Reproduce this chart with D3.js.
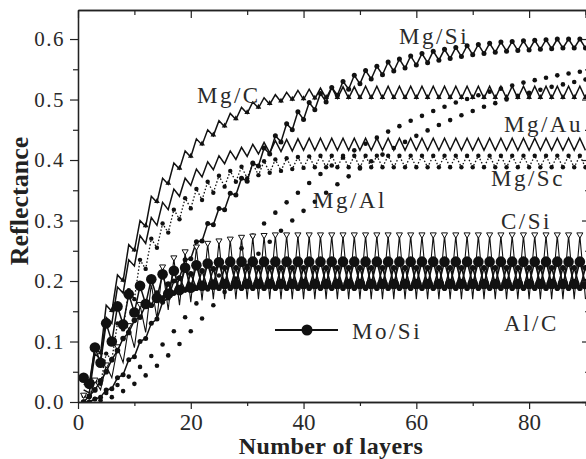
<!DOCTYPE html>
<html>
<head>
<meta charset="utf-8">
<script src="https://cdn.jsdelivr.net/npm/d3@7/dist/d3.min.js"></script>
<style>
  body { margin: 0; background: #fff; }
  text { font-family: "Liberation Serif", "Times New Roman", serif; fill: #2a2a2a; }
</style>
</head>
<body>
<div id="chart"></div>
<script>
// tick values
const xMajor = [0, 20, 40, 60, 80];
const xMinor = [10, 30, 50, 70, 90];
const yMajor = [0, 0.1, 0.2, 0.3, 0.4, 0.5, 0.6];
const yMinor = [0.05, 0.15, 0.25, 0.35, 0.45, 0.55];

// reflectance, odd layers (1,3,..,89) and even layers (2,4,..,90)
const mgcOdd = [0.03,0.09,0.16,0.21,0.26,0.30,0.34,0.37,0.395,0.415,0.435,0.45,0.465,0.477,0.487,0.496,0.503,0.508,0.512,0.515,0.517,0.519,0.52,
  0.521,0.521,0.522,0.522,0.522,0.522,0.522,0.522,0.522,0.522,0.522,0.522,0.522,0.522,0.522,0.522,0.522,0.522,0.522,0.522,0.522,0.522];
const mgcEven = [0.025,0.08,0.15,0.2,0.25,0.29,0.33,0.36,0.385,0.405,0.425,0.44,0.455,0.467,0.477,0.486,0.492,0.496,0.499,0.5,0.501,0.502,0.502,
  0.502,0.502,0.502,0.502,0.502,0.502,0.502,0.502,0.502,0.502,0.502,0.502,0.502,0.502,0.502,0.502,0.502,0.502,0.502,0.502,0.502,0.502];

const mgauOdd = [0.02,0.08,0.14,0.19,0.235,0.275,0.305,0.33,0.352,0.37,0.385,0.397,0.407,0.415,0.421,0.426,0.429,0.432,0.434,0.435,0.436,
  0.436,0.436,0.436,0.436,0.436,0.436,0.436,0.436,0.436,0.436,0.436,0.436,0.436,0.436,0.436,0.436,0.436,0.436,0.436,0.436,0.436,0.436,0.436,0.436];
const mgauEven = [0.015,0.07,0.13,0.18,0.225,0.262,0.292,0.318,0.34,0.358,0.372,0.384,0.394,0.401,0.406,0.41,0.412,0.414,0.415,0.416,
  0.416,0.416,0.416,0.416,0.416,0.416,0.416,0.416,0.416,0.416,0.416,0.416,0.416,0.416,0.416,0.416,0.416,0.416,0.416,0.416,0.416,0.416,0.416,0.416,0.416];

const mgscOdd = [0.01,0.035,0.08,0.13,0.185,0.235,0.27,0.295,0.318,0.337,0.352,0.364,0.374,0.382,0.389,0.394,0.398,0.401,0.403,0.405,0.406,
  0.407,0.407,0.407,0.407,0.407,0.407,0.407,0.407,0.407,0.407,0.407,0.407,0.407,0.407,0.407,0.407,0.407,0.407,0.407,0.407,0.407,0.407,0.407,0.407];
const mgscEven = [0.008,0.03,0.07,0.12,0.17,0.22,0.255,0.28,0.302,0.32,0.334,0.346,0.356,0.364,0.37,0.375,0.379,0.382,0.385,0.387,
  0.388,0.388,0.388,0.388,0.388,0.388,0.388,0.388,0.388,0.388,0.388,0.388,0.388,0.388,0.388,0.388,0.388,0.388,0.388,0.388,0.388,0.388,0.388,0.388,0.388];

const mgsiOdd = [0,0.005,0.02,0.04,0.07,0.10,0.13,0.165,0.20,0.235,0.265,0.295,0.32,0.345,0.37,0.395,0.42,0.44,0.46,0.48,0.495,0.51,0.52,0.53,0.54,
  0.548,0.555,0.562,0.567,0.572,0.576,0.58,0.583,0.586,0.589,0.591,0.593,0.595,0.596,0.597,0.598,0.599,0.6,0.6,0.6];
const mgsiEven = [0,0.008,0.022,0.045,0.075,0.105,0.137,0.172,0.205,0.237,0.266,0.293,0.318,0.342,0.365,0.39,0.41,0.43,0.45,0.467,0.483,0.496,0.507,0.517,0.526,
  0.534,0.541,0.547,0.552,0.557,0.561,0.565,0.568,0.571,0.574,0.576,0.578,0.58,0.581,0.582,0.583,0.584,0.585,0.585,0.585];

const mgalOdd = [0,0.005,0.015,0.028,0.042,0.058,0.076,0.095,0.117,0.14,0.163,0.186,0.209,0.232,0.254,0.275,0.295,0.313,0.33,0.346,
  0.362,0.377,0.391,0.404,0.416,0.427,0.437,0.447,0.456,0.465,0.473,0.481,0.488,0.495,0.501,0.507,0.513,0.518,0.523,0.528,0.532,0.536,0.54,0.543,0.546];
const mgalEven = [0,0.003,0.008,0.018,0.03,0.044,0.06,0.077,0.096,0.117,0.138,0.16,0.182,0.204,0.225,0.245,0.265,0.283,0.3,0.316,
  0.331,0.346,0.36,0.373,0.386,0.398,0.409,0.42,0.43,0.44,0.449,0.458,0.466,0.474,0.481,0.488,0.494,0.5,0.506,0.511,0.516,0.521,0.525,0.529,0.533];

const csiOdd = [0.01,0.035,0.06,0.09,0.125,0.16,0.195,0.222,0.237,0.247,0.255,0.261,0.265,0.268,0.271,0.273,0.274,
  0.275,0.275,0.275,0.275,0.275,0.275,0.275,0.275,0.275,0.275,0.275,0.275,0.275,0.275,0.275,0.275,0.275,0.275,0.275,0.275,0.275,0.275,0.275,0.275,0.275,0.275,0.275,0.275];
const csiEven = [0.005,0.02,0.04,0.065,0.09,0.115,0.138,0.152,0.16,0.165,0.168,
  0.17,0.17,0.17,0.17,0.17,0.17,0.17,0.17,0.17,0.17,0.17,0.17,0.17,0.17,0.17,0.17,0.17,0.17,0.17,0.17,0.17,0.17,0.17,0.17,0.17,0.17,0.17,0.17,0.17,0.17,0.17,0.17,0.17,0.17];

const mosiOdd = [0.04,0.09,0.13,0.158,0.178,0.192,0.203,0.211,0.217,0.222,0.226,0.229,0.231,
  0.232,0.232,0.232,0.232,0.232,0.232,0.232,0.232,0.232,0.232,0.232,0.232,0.232,0.232,0.232,0.232,0.232,0.232,0.232,0.232,0.232,0.232,0.232,0.232,0.232,0.232,0.232,0.232,0.232,0.232,0.232,0.232];
const mosiEven = [0.03,0.065,0.1,0.128,0.148,0.162,0.172,0.179,0.185,0.189,0.192,0.194,
  0.195,0.195,0.195,0.195,0.195,0.195,0.195,0.195,0.195,0.195,0.195,0.195,0.195,0.195,0.195,0.195,0.195,0.195,0.195,0.195,0.195,0.195,0.195,0.195,0.195,0.195,0.195,0.195,0.195,0.195,0.195,0.195,0.195];

const alcOdd = [0,0.02,0.05,0.085,0.115,0.14,0.16,0.172,0.18,0.185,
  0.188,0.188,0.188,0.188,0.188,0.188,0.188,0.188,0.188,0.188,0.188,0.188,0.188,0.188,0.188,0.188,0.188,0.188,0.188,0.188,0.188,0.188,0.188,0.188,0.188,0.188,0.188,0.188,0.188,0.188,0.188,0.188,0.188,0.188,0.188];
const alcEven = [0.01,0.035,0.07,0.105,0.135,0.16,0.18,0.195,0.205,0.212,0.217,0.22,
  0.222,0.222,0.222,0.222,0.222,0.222,0.222,0.222,0.222,0.222,0.222,0.222,0.222,0.222,0.222,0.222,0.222,0.222,0.222,0.222,0.222,0.222,0.222,0.222,0.222,0.222,0.222,0.222,0.222,0.222,0.222,0.222,0.222];

// put odd/even values back in layer order
const merge = (odd, even) => odd.flatMap((v, i) => [{n: 2 * i + 1, r: v}, {n: 2 * i + 2, r: even[i]}]);

const series = [
  {name: "Mg/Al", pts: merge(mgalOdd, mgalEven), line: null, dot: 2.3},
  {name: "Mg/Sc", pts: merge(mgscOdd, mgscEven), line: "dot", dot: 2.2},
  {name: "Mg/Au", pts: merge(mgauOdd, mgauEven), line: "solid", dot: 0},
  {name: "Mg/C", pts: merge(mgcOdd, mgcEven), line: "solid", tri: "up"},
  {name: "Mg/Si", pts: merge(mgsiOdd, mgsiEven), line: "solid", dot: 2.5},
  {name: "C/Si", pts: merge(csiOdd, csiEven), line: "thin", tri: "down"},
  {name: "Al/C", pts: merge(alcOdd, alcEven), line: "solid", dot: 2.8},
  {name: "Mo/Si", pts: merge(mosiOdd, mosiEven), line: "solid", dot: 5.3}
];

const labels = [
  {text: "Mg/Si", x: 399, y: 44},
  {text: "Mg/C", x: 197, y: 103},
  {text: "Mg/Au", x: 504, y: 132},
  {text: "Mg/Sc", x: 491, y: 186},
  {text: "Mg/Al", x: 313, y: 208},
  {text: "C/Si", x: 501, y: 229},
  {text: "Al/C", x: 504, y: 331}
];

const W = 586, H = 459;
const svg = d3.select("#chart").append("svg").attr("width", W).attr("height", H);

const x = d3.scaleLinear().domain([0, 90.8]).range([78, 590]);
const y = d3.scaleLinear().domain([0, 0.648]).range([402, 10]);

svg.append("clipPath").attr("id", "plot")
   .append("rect").attr("x", 78).attr("y", 10).attr("width", 512).attr("height", 392);

const g = svg.append("g").attr("clip-path", "url(#plot)");

const line = d3.line().x(d => x(d.n)).y(d => y(d.r));

series.forEach(s => {
  if (s.line) {
    g.append("path")
     .datum(s.pts)
     .attr("fill", "none")
     .attr("stroke", "#111")
     .attr("stroke-width", s.line === "thin" ? 1.1 : (s.line === "dot" ? 1.3 : 1.5))
     .attr("stroke-dasharray", s.line === "dot" ? "1.5,2" : null)
     .attr("stroke-linejoin", "miter")
     .attr("d", line);
  }
  if (s.dot) {
    g.selectAll(null).data(s.pts).enter().append("circle")
     .attr("cx", d => x(d.n)).attr("cy", d => y(d.r))
     .attr("r", s.dot).attr("fill", "#111");
  }
  if (s.tri === "up") {
    g.selectAll(null).data(s.pts.filter(d => d.n % 2 === 0)).enter().append("path")
     .attr("transform", d => `translate(${x(d.n)},${y(d.r) - 1})`)
     .attr("d", d3.symbol(d3.symbolTriangle, 14)())
     .attr("fill", "#111");
  }
  if (s.tri === "down") {
    g.selectAll(null).data(s.pts.filter(d => d.n % 2 === 1)).enter().append("path")
     .attr("transform", d => `translate(${x(d.n)},${y(d.r) - 1}) rotate(180)`)
     .attr("d", d3.symbol(d3.symbolTriangle, 16)())
     .attr("fill", "#fff").attr("stroke", "#111").attr("stroke-width", 1);
  }
});

// axes, ticks outside on left/bottom, inside on top/right
const axisStyle = sel => {
  sel.select(".domain").attr("stroke", "#222").attr("stroke-width", 1.3);
  sel.selectAll(".tick line").attr("stroke", "#222").attr("stroke-width", 1.2);
};

svg.append("g").attr("transform", "translate(0,402)")
   .call(d3.axisBottom(x).tickValues(xMajor).tickSize(7).tickSizeOuter(0).tickFormat(d3.format("d")))
   .call(axisStyle)
   .call(a => a.selectAll("text").attr("font-size", 23).attr("dy", null).attr("y", 28)
               .style("font-family", "Liberation Serif").attr("fill", "#2a2a2a"));
svg.append("g").attr("transform", "translate(0,402)")
   .call(d3.axisBottom(x).tickValues(xMinor).tickSize(4).tickSizeOuter(0).tickFormat(""))
   .call(axisStyle);

svg.append("g").attr("transform", "translate(0,10)")
   .call(d3.axisTop(x).tickValues(xMajor.concat([90])).tickSize(-8).tickSizeOuter(0).tickFormat(""))
   .call(axisStyle);
svg.append("g").attr("transform", "translate(0,10)")
   .call(d3.axisTop(x).tickValues(xMinor).tickSize(-5).tickSizeOuter(0).tickFormat(""))
   .call(axisStyle);

svg.append("g").attr("transform", "translate(78,0)")
   .call(d3.axisLeft(y).tickValues(yMajor).tickSize(8).tickSizeOuter(0).tickFormat(d3.format(".1f")))
   .call(axisStyle)
   .call(a => a.selectAll("text").attr("font-size", 21).attr("x", -13)
               .style("letter-spacing", "1.5px")
               .style("font-family", "Liberation Serif").attr("fill", "#2a2a2a"));
svg.append("g").attr("transform", "translate(78,0)")
   .call(d3.axisLeft(y).tickValues(yMinor).tickSize(5).tickSizeOuter(0).tickFormat(""))
   .call(axisStyle);

svg.append("g").attr("transform", "translate(590,0)")
   .call(d3.axisRight(y).tickValues(yMajor).tickSize(-8).tickSizeOuter(0).tickFormat(""))
   .call(axisStyle);
svg.append("g").attr("transform", "translate(590,0)")
   .call(d3.axisRight(y).tickValues(yMinor).tickSize(-5).tickSizeOuter(0).tickFormat(""))
   .call(axisStyle);

// series labels
svg.selectAll(".lbl").data(labels).enter().append("text")
   .attr("class", "lbl")
   .attr("x", d => d.x).attr("y", d => d.y)
   .attr("font-size", 23)
   .style("letter-spacing", "2.5px")
   .text(d => d.text);

// legend
const legend = svg.append("g");
legend.append("line").attr("x1", 275).attr("x2", 338).attr("y1", 330).attr("y2", 330)
      .attr("stroke", "#111").attr("stroke-width", 1.8);
legend.append("circle").attr("cx", 307).attr("cy", 330).attr("r", 5.5).attr("fill", "#111");
legend.append("text").attr("x", 352).attr("y", 339).attr("font-size", 23)
      .style("letter-spacing", "2.5px").text("Mo/Si");

// axis titles
svg.append("text").attr("x", 331).attr("y", 454).attr("text-anchor", "middle")
   .attr("font-size", 24).attr("font-weight", "bold").style("fill", "#222")
   .style("letter-spacing", "0.4px")
   .text("Number of layers");
svg.append("text").attr("transform", "translate(28,201) rotate(-90)").attr("text-anchor", "middle")
   .attr("font-size", 26).attr("font-weight", "bold").style("fill", "#222")
   .text("Reflectance");
</script>
</body>
</html>
